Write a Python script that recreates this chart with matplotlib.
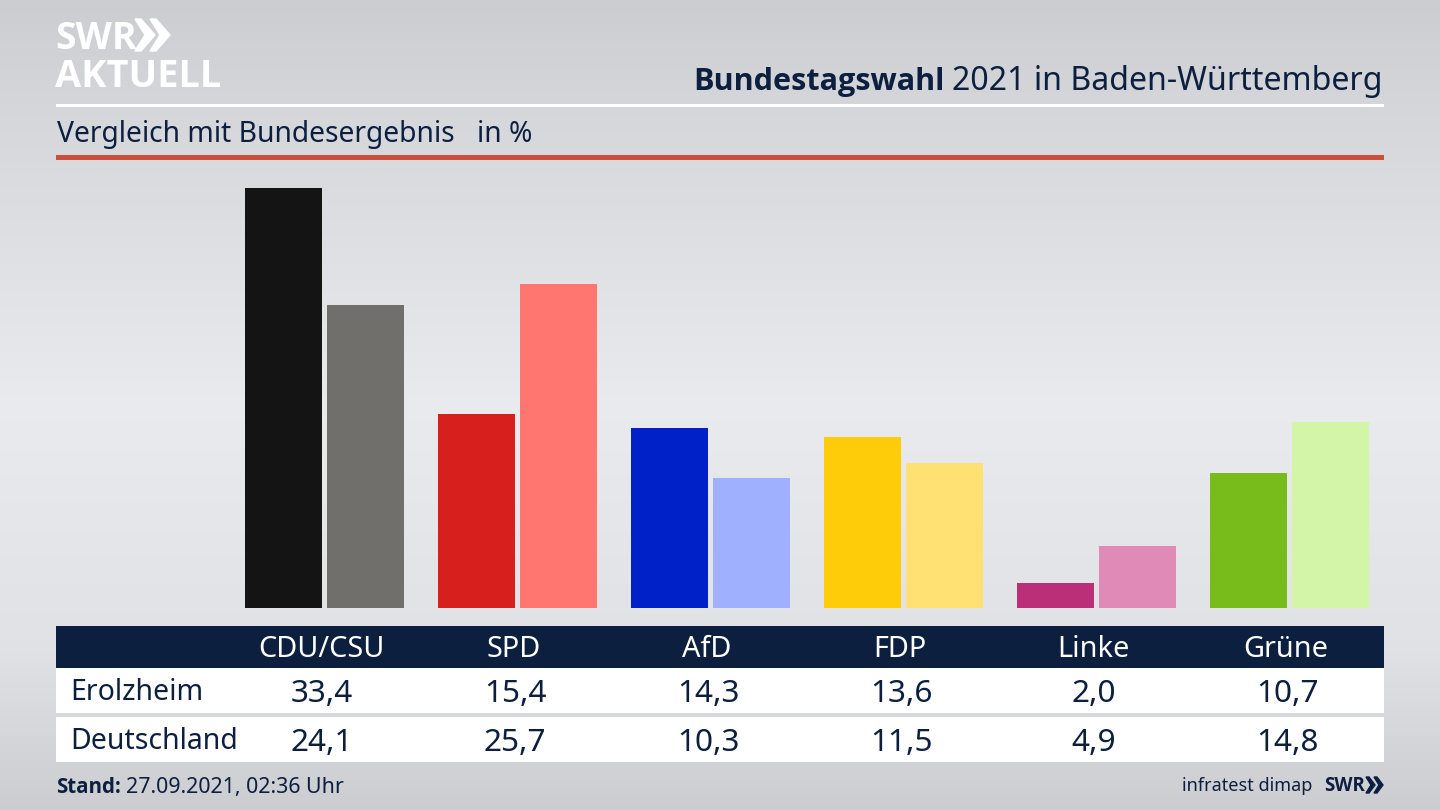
import numpy as np
import matplotlib
matplotlib.use("Agg")
import matplotlib.pyplot as plt
from matplotlib.patches import Rectangle, Polygon

plt.rcParams['font.family'] = ['Noto Sans', 'DejaVu Sans']

parties = ["CDU/CSU", "SPD", "AfD", "FDP", "Linke", "Grüne"]
erolzheim = [33.4, 15.4, 14.3, 13.6, 2.0, 10.7]
deutschland = [24.1, 25.7, 10.3, 11.5, 4.9, 14.8]
colors_local = ["#141414", "#d71f1d", "#0021c8", "#ffcc0a", "#bb2f78", "#78bc1b"]
colors_national = ["#716f6c", "#ff7570", "#9fb0ff", "#ffe072", "#e08ab8", "#d3f5a8"]
row_names = ["Erolzheim", "Deutschland"]

NAVY = "#0c1f3f"
BOLD = ["Open Sans", "DejaVu Sans"]  # Noto Sans has no bold cut here
W, H = 1440, 810

fig = plt.figure(figsize=(14.4, 8.1), dpi=100)

# page background and all the furniture, in pixel coords
page = fig.add_axes([0, 0, 1, 1])
page.set_xlim(0, W)
page.set_ylim(H, 0)
page.axis("off")
shades = np.interp(np.linspace(0, 1, 200), [0, 0.15, 0.5, 0.8, 1],
                   [0.80, 0.84, 0.915, 0.88, 0.80])
bg = np.dstack([shades, shades + 0.005, shades + 0.02])
page.imshow(bg.reshape(200, 1, 3), extent=[0, W, H, 0], aspect="auto", zorder=0)

# logo
page.text(55, 49, "SWR", color="white", fontsize=27, family=BOLD, fontweight="bold", va="baseline", zorder=3)
for x0 in (135, 150):
    page.add_patch(Polygon([(x0, 19), (x0 + 6, 19), (x0 + 20, 35), (x0 + 6, 51), (x0, 51), (x0 + 10, 35)],
                           closed=True, color="white", zorder=3))
page.text(55, 87, "AKTUELL", color="white", fontsize=27.4, family=BOLD, fontweight="bold", va="baseline", zorder=3)

# title
page.text(1383, 90, "2021 in Baden-Württemberg", color=NAVY, fontsize=23.1, ha="right", va="baseline", zorder=3)
page.text(945, 90, "Bundestagswahl", color=NAVY, fontsize=22.1, family=BOLD, fontweight="bold", ha="right", va="baseline", zorder=3)
page.add_patch(Rectangle((56, 104), 1328, 3, color="white", lw=0, zorder=2))
page.text(57, 142, "Vergleich mit Bundesergebnis", color=NAVY, fontsize=20.35, va="baseline", zorder=3)
page.text(477, 142, "in %", color=NAVY, fontsize=20.3, va="baseline", zorder=3)
page.add_patch(Rectangle((56, 155), 1328, 5, color="#c9503c", lw=0, zorder=2))

# bars
chart = fig.add_axes([0, 1 - 608 / H, 1, (608 - 187.5) / H])
chart.patch.set_alpha(0)
chart.set_xlim(0, W)
chart.set_ylim(0, 33.4)
chart.axis("off")
centers = 324.5 + 193 * np.arange(len(parties))
chart.bar(centers - 41, erolzheim, width=77, color=colors_local)
chart.bar(centers + 41, deutschland, width=77, color=colors_national)

# table
page.add_patch(Rectangle((56, 626), 1328, 42, color=NAVY, lw=0, zorder=2))
page.add_patch(Rectangle((56, 668), 1328, 45, color="white", lw=0, zorder=2))
page.add_patch(Rectangle((56, 717), 1328, 45, color="white", lw=0, zorder=2))
for i, name in enumerate(parties):
    x = 321 + 193 * i
    page.text(x, 657, name, color="white", fontsize=20.8, ha="center", va="baseline", zorder=3)
    page.text(x + 1, 702, f"{erolzheim[i]:.1f}".replace(".", ","), color=NAVY, fontsize=22.7, ha="center", va="baseline", zorder=3)
    page.text(x + 1, 751, f"{deutschland[i]:.1f}".replace(".", ","), color=NAVY, fontsize=22.7, ha="center", va="baseline", zorder=3)
page.text(70, 700, row_names[0], color=NAVY, fontsize=20.5, va="baseline", zorder=3)
page.text(70, 749, row_names[1], color=NAVY, fontsize=20.5, va="baseline", zorder=3)

# footer
page.text(56, 793, "Stand:", color=NAVY, fontsize=14.8, family=BOLD, fontweight="bold", va="baseline", zorder=3)
page.text(126, 793, "27.09.2021, 02:36 Uhr", color=NAVY, fontsize=15.4, va="baseline", zorder=3)
page.text(1312, 791, "infratest dimap", color=NAVY, fontsize=13, ha="right", va="baseline", zorder=3)
page.text(1324, 791, "SWR", color=NAVY, fontsize=13.5, family=BOLD, fontweight="bold", va="baseline", zorder=3)
for x0 in (1366, 1374):
    page.add_patch(Polygon([(x0, 777), (x0 + 3, 777), (x0 + 9, 785), (x0 + 3, 793), (x0, 793), (x0 + 5, 785)],
                           closed=True, color=NAVY, zorder=3))

fig.savefig("out.png", dpi=100)
